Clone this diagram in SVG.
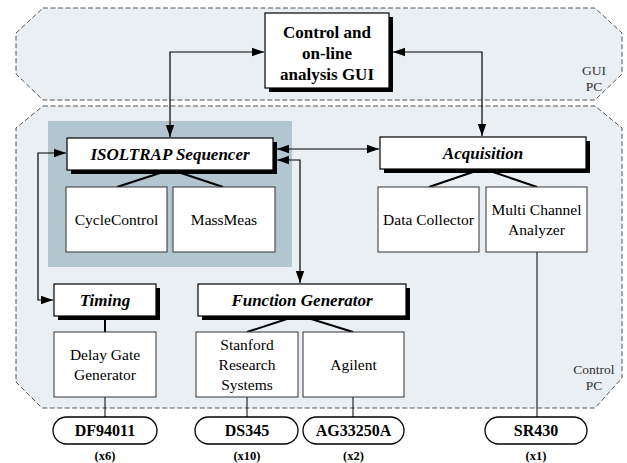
<svg xmlns="http://www.w3.org/2000/svg" width="627" height="463" viewBox="0 0 627 463" font-family="Liberation Serif, Times New Roman, serif">
  <defs>
    <marker id="arrow" markerUnits="userSpaceOnUse" markerWidth="13" markerHeight="10" refX="12" refY="5" orient="auto-start-reverse">
      <path d="M0,0.8 L12,5 L0,9.2 Z" fill="#000"/>
    </marker>
  </defs>
  <style>
    .zone { fill: #eaeff4; stroke: #555; stroke-width: 1; stroke-dasharray: 5 2.5; }
    .panel { fill: #b3c6d0; }
    .box { fill: #fff; stroke: #000; stroke-width: 1.2; }
    .shadow { fill: #000; }
    .sub { fill: #fff; stroke: #333; stroke-width: 1; }
    .pill { fill: #fff; stroke: #000; stroke-width: 1.3; }
    .title { font-weight: bold; font-style: italic; font-size: 17px; text-anchor: middle; }
    .gui { font-weight: bold; font-size: 17px; text-anchor: middle; }
    .label { font-size: 15.5px; text-anchor: middle; }
    .dev { font-weight: bold; font-size: 16px; text-anchor: middle; }
    .count { font-weight: bold; font-size: 12.5px; text-anchor: middle; }
    .zonelabel { font-size: 13.5px; fill: #333; text-anchor: middle; }
    .wire { fill: none; stroke: #000; stroke-width: 1.2; }
    .link { fill: none; stroke: #000; stroke-width: 2; }
    .thin { fill: none; stroke: #000; stroke-width: 1; }
  </style>

  <!-- computer zones -->
  <g id="gui-pc">
    <path class="zone" d="M43,8 L595,8 L622,33 L622,74 L595,100 L43,100 L16,74 L16,33 Z"/>
    <text class="zonelabel" x="594" y="75">GUI</text>
    <text class="zonelabel" x="594" y="91">PC</text>
  </g>
  <g id="control-pc">
    <path class="zone" d="M43,106 L595,106 L622,128 L622,378 L595,408 L42,408 L16,382 L16,128 Z"/>
    <text class="zonelabel" x="594" y="374">Control</text>
    <text class="zonelabel" x="594" y="390">PC</text>
  </g>

  <rect class="panel" x="48" y="121" width="244" height="146"/>

  <!-- connectors -->
  <g id="connectors">
    <polyline class="wire" points="170,137 170,52 264,52" marker-start="url(#arrow)" marker-end="url(#arrow)"/>
    <polyline class="wire" points="482,136 482,52 393,52" marker-start="url(#arrow)" marker-end="url(#arrow)"/>
    <line class="wire" x1="277" y1="149" x2="379" y2="149" marker-start="url(#arrow)" marker-end="url(#arrow)"/>
    <polyline class="wire" points="277,160 300,160 300,283" marker-start="url(#arrow)" marker-end="url(#arrow)"/>
    <polyline class="wire" points="66,153 38,153 38,300 53,300" marker-start="url(#arrow)" marker-end="url(#arrow)"/>
    <line class="link" x1="163" y1="172" x2="117" y2="187"/>
    <line class="link" x1="178" y1="172" x2="223" y2="187"/>
    <line class="link" x1="473" y1="172" x2="429" y2="187"/>
    <line class="link" x1="493" y1="172" x2="537" y2="187"/>
    <line class="link" x1="105" y1="318" x2="105" y2="332"/>
    <line class="link" x1="290" y1="318" x2="247" y2="332"/>
    <line class="link" x1="308" y1="318" x2="353" y2="332"/>
    <line class="thin" x1="105" y1="397" x2="105" y2="417"/>
    <line class="thin" x1="247" y1="397" x2="247" y2="417"/>
    <line class="thin" x1="353" y1="397" x2="353" y2="417"/>
    <line class="thin" x1="537" y1="252" x2="537" y2="417"/>
  </g>

  <g id="gui-app">
    <rect class="shadow" x="269" y="17" width="124" height="75"/>
    <rect class="box" x="265" y="13" width="124" height="75"/>
    <text class="gui" x="327" y="38">Control and</text>
    <text class="gui" x="327" y="59">on-line</text>
    <text class="gui" x="327" y="80">analysis GUI</text>
  </g>

  <g id="sequencer">
    <rect class="shadow" x="71" y="142" width="206" height="32"/>
    <rect class="box" x="67" y="138" width="206" height="32"/>
    <text class="title" x="170" y="160">ISOLTRAP Sequencer</text>
  </g>
  <g id="cycle-control">
    <rect class="sub" x="66" y="187" width="101" height="65"/>
    <text class="label" x="116.5" y="225">CycleControl</text>
  </g>
  <g id="mass-meas">
    <rect class="sub" x="173" y="187" width="102" height="65"/>
    <text class="label" x="224" y="225">MassMeas</text>
  </g>

  <g id="acquisition">
    <rect class="shadow" x="384" y="141" width="206" height="32"/>
    <rect class="box" x="380" y="137" width="206" height="32"/>
    <text class="title" x="483" y="159">Acquisition</text>
  </g>
  <g id="data-collector">
    <rect class="sub" x="378" y="187" width="101" height="65"/>
    <text class="label" x="428.5" y="225">Data Collector</text>
  </g>
  <g id="mca">
    <rect class="sub" x="486" y="187" width="101" height="65"/>
    <text class="label" x="536.5" y="215">Multi Channel</text>
    <text class="label" x="536.5" y="235">Analyzer</text>
  </g>

  <g id="timing">
    <rect class="shadow" x="58" y="288" width="102" height="32"/>
    <rect class="box" x="54" y="284" width="102" height="32"/>
    <text class="title" x="105" y="306">Timing</text>
  </g>
  <g id="delay-gate">
    <rect class="sub" x="54" y="332" width="102" height="65"/>
    <text class="label" x="105" y="360">Delay Gate</text>
    <text class="label" x="105" y="380">Generator</text>
  </g>

  <g id="function-generator">
    <rect class="shadow" x="202" y="288" width="208" height="32"/>
    <rect class="box" x="198" y="284" width="208" height="32"/>
    <text class="title" x="302" y="306">Function Generator</text>
  </g>
  <g id="stanford">
    <rect class="sub" x="196" y="332" width="102" height="65"/>
    <text class="label" x="247" y="350">Stanford</text>
    <text class="label" x="247" y="370">Research</text>
    <text class="label" x="247" y="390">Systems</text>
  </g>
  <g id="agilent">
    <rect class="sub" x="303" y="332" width="101" height="65"/>
    <text class="label" x="353.5" y="370">Agilent</text>
  </g>

  <g id="df94011">
    <rect class="pill" x="53" y="417" width="104" height="27" rx="13.5"/>
    <text class="dev" x="105" y="436">DF94011</text>
    <text class="count" x="105" y="460">(x6)</text>
  </g>
  <g id="ds345">
    <rect class="pill" x="195" y="417" width="103" height="27" rx="13.5"/>
    <text class="dev" x="247" y="436">DS345</text>
    <text class="count" x="247" y="460">(x10)</text>
  </g>
  <g id="ag33250a">
    <rect class="pill" x="303" y="417" width="101" height="27" rx="13.5"/>
    <text class="dev" x="353.5" y="436">AG33250A</text>
    <text class="count" x="353.5" y="460">(x2)</text>
  </g>
  <g id="sr430">
    <rect class="pill" x="485" y="417" width="102" height="27" rx="13.5"/>
    <text class="dev" x="536" y="436">SR430</text>
    <text class="count" x="536" y="460">(x1)</text>
  </g>
</svg>
